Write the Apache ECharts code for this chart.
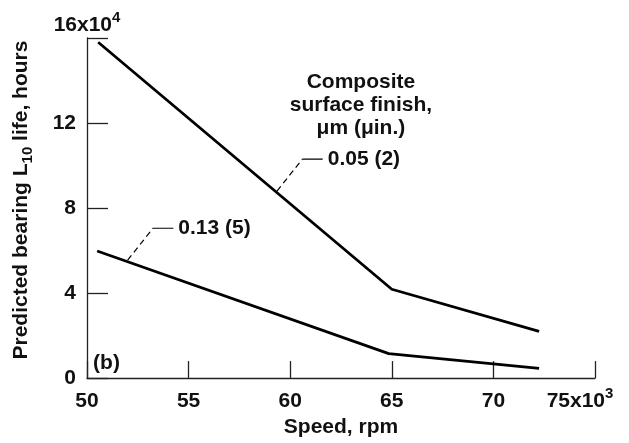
<!DOCTYPE html>
<html>
<head>
<meta charset="utf-8">
<script src="https://cdn.jsdelivr.net/npm/echarts@6/dist/echarts.min.js"></script>
<style>
    html, body { margin: 0; background: #fff; }
    #chart { width: 629px; height: 443px; }
</style>
</head>
<body>
<div id="chart"></div>
<script>
// speed in 10^3 rpm, life in 10^4 hours
const speeds005 = [50.55, 65, 72.25];
const life005 = [15.8, 4.18, 2.2];
const speeds013 = [50.5, 64.85, 72.25];
const life013 = [5.98, 1.15, 0.46];

const xTicks = [50, 55, 60, 65, 70, 75];
const yTicks = [0, 4, 8, 12, 16];

// callout leaders (data coords): dashed part then short solid part
const leader005 = [[59.35, 8.8], [60.6, 10.3], [61.6, 10.3]];
const leader013 = [[52.0, 5.55], [53.25, 7.05], [54.25, 7.05]];
const label005 = '0.05 (2)';
const label013 = '0.13 (5)';

const FONT = '"Liberation Sans", Arial, sans-serif';
const FS = 21;
const TXT = '#111';

const zip = (xs, ys) => xs.map((x, i) => [x, ys[i]]);

const chart = echarts.init(document.getElementById('chart'));

const axisLine = { lineStyle: { color: '#222', width: 1.3 } };
const txt = { fontFamily: FONT, fontSize: FS, fontWeight: 'bold', color: TXT };

const option = {
    animation: false,
    grid: { left: 87, right: 34, top: 38, bottom: 57 },
    xAxis: {
        type: 'value',
        min: xTicks[0],
        max: xTicks[xTicks.length - 1],
        interval: 5,
        axisLine: axisLine,
        axisTick: { inside: true, length: 17, lineStyle: axisLine.lineStyle },
        splitLine: { show: false },
        axisLabel: Object.assign({ margin: 13, formatter: v => v === 75 ? '' : String(v) }, txt),
        name: 'Speed, rpm',
        nameLocation: 'middle',
        nameGap: 31,
        nameTextStyle: txt
    },
    yAxis: {
        type: 'value',
        min: yTicks[0],
        max: yTicks[yTicks.length - 1],
        interval: 4,
        axisLine: axisLine,
        axisTick: { inside: true, length: 21, lineStyle: axisLine.lineStyle },
        splitLine: { show: false },
        axisLabel: Object.assign({ margin: 11, formatter: v => v === 16 ? '' : String(v) }, txt),
        name: '{n|Predicted bearing L}{sub|10}{n| life, hours}',
        nameLocation: 'middle',
        nameRotate: 90,
        nameGap: 52,
        nameTextStyle: {
            padding: [0, 0, 0, 16],
            rich: {
                n: txt,
                sub: Object.assign({}, txt, { fontSize: 15, padding: [12, 0, 0, 0] })
            }
        }
    },
    series: [
        {
            type: 'line', data: zip(speeds005, life005), symbol: 'none',
            lineStyle: { color: '#000', width: 2.8 }
        },
        {
            type: 'line', data: zip(speeds013, life013), symbol: 'none',
            lineStyle: { color: '#000', width: 2.8 }
        },
        {
            type: 'line', data: leader005.slice(0, 2), symbol: 'none',
            lineStyle: { color: '#000', width: 1.2, type: [6, 4] }
        },
        {
            type: 'line', data: leader005.slice(1), symbol: 'none',
            lineStyle: { color: '#000', width: 1.2 },
            endLabel: Object.assign({ show: true, formatter: label005, distance: 5 }, txt)
        },
        {
            type: 'line', data: leader013.slice(0, 2), symbol: 'none',
            lineStyle: { color: '#000', width: 1.2, type: [6, 4] }
        },
        {
            type: 'line', data: leader013.slice(1), symbol: 'none',
            lineStyle: { color: '#000', width: 1.2 },
            endLabel: Object.assign({ show: true, formatter: label013, distance: 5 }, txt)
        }
    ]
};

chart.setOption(option);

// axis-end labels with exponents, and annotation text, anchored in data coords
const px = p => chart.convertToPixel({ gridIndex: 0 }, p);
const yTopAt = px([xTicks[0], yTicks[yTicks.length - 1]]);
const xEndAt = px([xTicks[xTicks.length - 1], yTicks[0]]);
const legendTitleAt = px([63.48, 14.48]);
const panelAt = px([50.3, 0.69]);

const gFont = 'bold ' + FS + 'px ' + FONT;
const supRich = {
    n: { font: gFont, fill: TXT },
    s: { font: 'bold 15px ' + FONT, fill: TXT, padding: [0, 0, 15, 0] }
};

chart.setOption({
    graphic: [
        {
            type: 'text',
            x: yTopAt[0], y: yTopAt[1] - 13,
            style: { text: '{n|16x10}{s|4}', align: 'center', verticalAlign: 'middle', rich: supRich }
        },
        {
            type: 'text',
            x: xEndAt[0] - 15, y: xEndAt[1] + 23,
            style: { text: '{n|75x10}{s|3}', align: 'center', verticalAlign: 'middle', rich: supRich }
        },
        {
            type: 'text',
            x: legendTitleAt[0], y: legendTitleAt[1],
            style: {
                text: 'Composite\nsurface finish,\nμm (μin.)',
                align: 'center',
                verticalAlign: 'top',
                lineHeight: 23,
                font: gFont,
                fill: TXT
            }
        },
        {
            type: 'text',
            x: panelAt[0], y: panelAt[1],
            style: { text: '(b)', align: 'left', verticalAlign: 'middle', font: gFont, fill: TXT }
        }
    ]
});
</script>
</body>
</html>
